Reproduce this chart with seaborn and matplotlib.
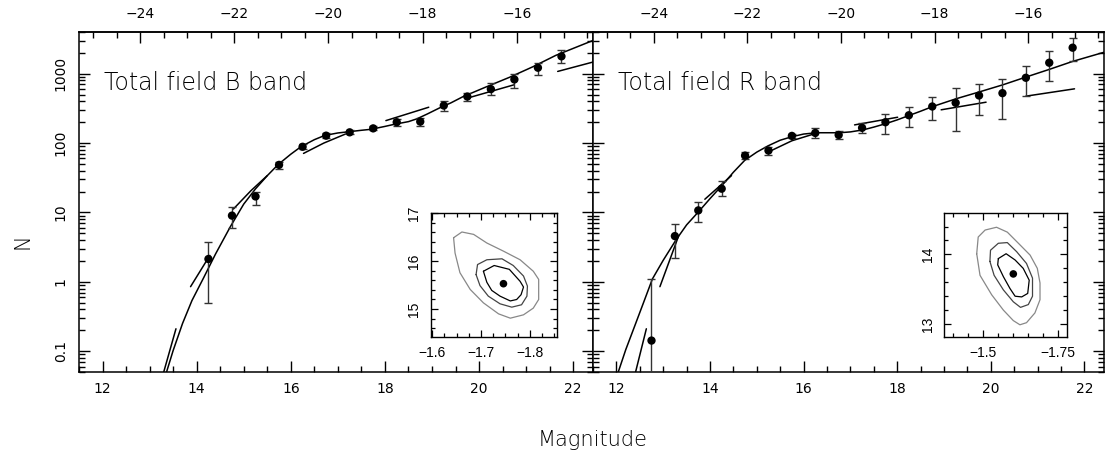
import matplotlib
matplotlib.use("Agg")
import matplotlib.pyplot as plt
import seaborn as sns
import numpy as np
from matplotlib.ticker import MultipleLocator, LogLocator, NullFormatter, FixedLocator

# ---------------- data: B band (total field) ----------------
b_mag = [14.25, 14.75, 15.25, 15.75, 16.25, 16.75, 17.25, 17.75, 18.25, 18.75,
         19.25, 19.75, 20.25, 20.75, 21.25, 21.75]
b_n = [2.13, 9.0, 17.0, 48.5, 88.5, 128, 143, 163, 200, 204, 348, 469, 600, 828, 1222, 1783]
b_lo = [0.5, 6.0, 12.7, 43, 81, 119, 134, 153, 178, 178, 288, 411, 495, 620, 968, 1430]
b_hi = [3.8, 12.1, 19.8, 54, 96, 138, 153, 174, 223, 230, 400, 525, 724, 1000, 1430, 2180]

b_fit_mag = [13.36, 13.5, 13.7, 13.9, 14.15, 14.4, 14.72, 15.0, 15.25, 15.5, 15.73, 16.0,
             16.22, 16.5, 16.72, 17.0, 17.2, 17.5, 17.7, 18.0, 18.19, 18.5, 18.68, 18.9,
             19.17, 19.4, 19.66, 20.15, 20.65, 21.14, 21.63, 22.42]
b_fit_n = [0.05, 0.102, 0.251, 0.537, 1.15, 2.51, 6.31, 13.2, 21.9, 33.9, 49, 69.2,
           89.1, 112, 129, 140, 145, 153, 158, 174, 186, 204, 224, 263,
           324, 380, 468, 646, 891, 1259, 1841, 3020]

b_dash_mag = [[13.30, 13.56], [13.87, 14.28], [14.78, 15.15, 15.50],
              [16.27, 16.70, 17.16], [18.02, 18.93], [19.80, 20.74], [21.67, 22.42]]
b_dash_n = [[0.05, 0.21], [0.85, 2.4], [11.2, 20.5, 34],
            [71, 100, 135], [211, 329], [455, 692], [1080, 1475]]

# ---------------- data: R band (total field) ----------------
r_mag = [12.75, 13.25, 13.75, 14.25, 14.75, 15.25, 15.75, 16.25, 16.75, 17.25, 17.75,
         18.25, 18.75, 19.25, 19.75, 20.25, 20.75, 21.25, 21.75]
r_n = [0.142, 4.56, 10.7, 22, 66, 78, 127, 140, 131, 166, 200, 252, 337, 381, 486, 525,
       875, 1442, 2376]
r_lo = [0.01, 2.23, 7.35, 17, 58, 68, 118, 117, 113, 140, 137, 173, 216, 148, 250, 223,
        470, 774, 1507]
r_hi = [1.09, 6.9, 14.1, 28, 74, 87, 137, 164, 147, 194, 261, 330, 460, 621, 716, 828,
        1290, 2130, 3280]

r_fit_mag = [12.04, 12.2, 12.39, 12.58, 12.77, 13.0, 13.27, 13.5, 13.77, 14.0, 14.31, 14.5,
             14.74, 15.0, 15.24, 15.5, 15.74, 16.0, 16.27, 16.5, 16.77, 17.0, 17.27, 17.5,
             17.76, 18.0, 18.26, 18.5, 18.75, 19.26, 19.74, 20.26, 20.75, 21.25, 21.75, 22.42]
r_fit_n = [0.05, 0.105, 0.229, 0.501, 1.10, 2.04, 3.98, 6.61, 10.5, 15.8, 26.9, 38.0,
           56.2, 74.1, 91.2, 110, 123, 135, 141, 141, 141, 145, 155, 170,
           191, 216, 251, 288, 335, 436, 543, 693, 895, 1155, 1507, 2040]

r_dash_mag = [[12.41, 12.64], [12.93, 13.33], [13.89, 14.46], [15.31, 15.75, 16.23],
              [17.09, 18.01], [18.94, 19.90], [20.75, 21.79]]
r_dash_n = [[0.05, 0.21], [0.85, 4.6], [15.5, 34], [78, 108, 136],
            [183, 236], [302, 389], [475, 606]]

# ---------------- inset contours (alpha, M*) ----------------
b_best = (-1.746, 15.53)
b_c1_a = [-1.705, -1.727, -1.758, -1.780, -1.787, -1.782, -1.773, -1.760, -1.739, -1.722, -1.712]
b_c1_m = [15.79, 15.91, 15.83, 15.58, 15.46, 15.30, 15.20, 15.17, 15.27, 15.39, 15.56]
b_c2_a = [-1.690, -1.693, -1.712, -1.743, -1.766, -1.787, -1.795, -1.794, -1.783, -1.763,
          -1.739, -1.715, -1.698]
b_c2_m = [15.72, 15.93, 16.03, 16.05, 15.91, 15.69, 15.48, 15.27, 15.09, 15.04, 15.11,
          15.27, 15.49]
b_c3_a = [-1.644, -1.661, -1.685, -1.712, -1.746, -1.780, -1.807, -1.818, -1.818, -1.807,
          -1.787, -1.760, -1.736, -1.705, -1.678, -1.657, -1.647]
b_c3_m = [16.49, 16.61, 16.56, 16.38, 16.21, 16.03, 15.79, 15.62, 15.20, 15.02, 14.88,
          14.81, 14.90, 15.13, 15.41, 15.76, 16.17]

r_best = (-1.600, 13.72)
r_c1_a = [-1.550, -1.576, -1.606, -1.633, -1.653, -1.648, -1.628, -1.606, -1.589, -1.567, -1.548]
r_c1_m = [13.94, 14.01, 13.92, 13.80, 13.63, 13.44, 13.39, 13.40, 13.51, 13.68, 13.85]
r_c2_a = [-1.522, -1.524, -1.550, -1.580, -1.611, -1.644, -1.664, -1.664, -1.650, -1.624,
          -1.600, -1.567, -1.536]
r_c2_m = [13.90, 14.06, 14.16, 14.17, 14.04, 13.87, 13.66, 13.40, 13.28, 13.24, 13.32,
          13.49, 13.70]
r_c3_a = [-1.478, -1.483, -1.506, -1.544, -1.580, -1.617, -1.656, -1.680, -1.689, -1.689,
          -1.672, -1.644, -1.622, -1.600, -1.567, -1.528, -1.489]
r_c3_m = [14.01, 14.25, 14.35, 14.39, 14.32, 14.16, 13.99, 13.80, 13.59, 13.35, 13.16,
          13.02, 12.99, 13.05, 13.20, 13.42, 13.70]

y_ticks = [0.1, 1, 10, 100, 1000]
y_ticklabels = ["0.1", "1", "10", "100", "1000"]
top_ticks = [-24, -22, -20, -18, -16]
dist_mod = 36.8

# ---------------- style ----------------
sns.set_theme(style="ticks")
plt.rcParams['font.family'] = ['DejaVu Sans']
plt.rcParams['axes.linewidth'] = 1.1
plt.rcParams['axes.edgecolor'] = 'black'
plt.rcParams['text.color'] = 'black'
plt.rcParams['axes.labelcolor'] = 'black'
plt.rcParams['xtick.color'] = 'black'
plt.rcParams['ytick.color'] = 'black'
plt.rcParams['xtick.labelcolor'] = 'black'
plt.rcParams['ytick.labelcolor'] = 'black'

fig = plt.figure(figsize=(11.06, 4.57), dpi=100)
ax1 = fig.add_axes([79 / 1106, 85 / 457, 514 / 1106, 340 / 457])
ax2 = fig.add_axes([593 / 1106, 85 / 457, 511 / 1106, 340 / 457])


def closed(a):
    return list(a) + [a[0]]


def main_panel(ax, mag, n, lo, hi, fm, fn, dm, dn, label, show_ylab):
    ax.set_yscale('log')
    sns.lineplot(x=fm, y=fn, sort=False, estimator=None, color='black', lw=1.1, ax=ax)
    for sm, sn in zip(dm, dn):
        sns.lineplot(x=sm, y=sn, sort=False, estimator=None, color='black', lw=1.1, ax=ax)
    n_a = np.array(n)
    ax.errorbar(mag, n, yerr=[n_a - np.array(lo), np.array(hi) - n_a], fmt='none',
                ecolor='#333333', elinewidth=1.0, capsize=3, capthick=1.0, zorder=3)
    sns.scatterplot(x=mag, y=n, color='black', s=36, edgecolor='none', ax=ax, zorder=5)
    ax.set_xlim(11.5, 22.42)
    ax.set_ylim(0.05, 4000)
    ax.set_xlabel('')
    ax.set_ylabel('')
    ax.xaxis.set_major_locator(MultipleLocator(2))
    ax.xaxis.set_minor_locator(MultipleLocator(0.5))
    ax.yaxis.set_major_locator(FixedLocator(y_ticks))
    ax.yaxis.set_minor_locator(LogLocator(base=10, subs=np.arange(2, 10)))
    ax.yaxis.set_minor_formatter(NullFormatter())
    ax.set_yticks(y_ticks, labels=y_ticklabels if show_ylab else [])
    ax.tick_params(axis='both', which='both', direction='in', top=False, right=True,
                   left=True, bottom=True, labelsize=10, width=1.0)
    ax.tick_params(axis='both', which='major', length=8)
    ax.tick_params(axis='both', which='minor', length=4)
    ax.tick_params(axis='x', pad=7)
    ax.tick_params(axis='y', pad=8, labelleft=show_ylab)
    for t in ax.get_yticklabels():
        t.set_rotation(90)
        t.set_va('center')
    sec = ax.secondary_xaxis('top', functions=(lambda m: m - dist_mod, lambda M: M + dist_mod))
    sec.xaxis.set_major_locator(FixedLocator(top_ticks))
    sec.xaxis.set_minor_locator(MultipleLocator(0.5))
    sec.tick_params(axis='x', which='both', direction='in', labelsize=10, width=1.0, pad=8)
    sec.tick_params(axis='x', which='major', length=8)
    sec.tick_params(axis='x', which='minor', length=4)
    ax.text(0.049, 0.829, label, transform=ax.transAxes, fontsize=17, color='black',
            fontweight='light', ha='left', va='baseline')


def inset(ax, rect, best, contours, xlim, ylim, xt, xtl, xminor):
    axin = ax.inset_axes(rect)
    colors = ['black', '#444444', '#888888']
    for (ca, cm), col in zip(contours, colors):
        sns.lineplot(x=closed(ca), y=closed(cm), sort=False, estimator=None,
                     color=col, lw=0.9, ax=axin)
    sns.scatterplot(x=[best[0]], y=[best[1]], color='black', s=30, edgecolor='none',
                    ax=axin, zorder=5)
    axin.set_xlim(*xlim)
    axin.set_ylim(*ylim)
    axin.set_xlabel('')
    axin.set_ylabel('')
    axin.set_xticks(xt, labels=xtl)
    axin.xaxis.set_minor_locator(MultipleLocator(xminor))
    axin.yaxis.set_major_locator(MultipleLocator(1))
    axin.yaxis.set_minor_locator(MultipleLocator(0.2))
    axin.tick_params(axis='both', which='both', direction='in', top=True, right=True,
                     labelsize=10, width=0.9)
    axin.tick_params(axis='both', which='major', length=5)
    axin.tick_params(axis='both', which='minor', length=3)
    axin.tick_params(axis='x', pad=6)
    axin.tick_params(axis='y', pad=7)
    for t in axin.get_xticklabels() + axin.get_yticklabels():
        t.set_family(['Liberation Sans', 'DejaVu Sans'])
    for t in axin.get_yticklabels():
        t.set_rotation(90)
        t.set_va('center')
    for s in axin.spines.values():
        s.set_linewidth(1.0)


main_panel(ax1, b_mag, b_n, b_lo, b_hi, b_fit_mag, b_fit_n, b_dash_mag, b_dash_n,
           "Total field B band", True)
main_panel(ax2, r_mag, r_n, r_lo, r_hi, r_fit_mag, r_fit_n, r_dash_mag, r_dash_n,
           "Total field R band", False)

inset(ax1, [0.685, 0.102, 0.2445, 0.3647], b_best,
      [(b_c1_a, b_c1_m), (b_c2_a, b_c2_m), (b_c3_a, b_c3_m)],
      (-1.598, -1.855), (14.41, 17.0), [-1.6, -1.7, -1.8],
      ["\u22121.6", "\u22121.7", "\u22121.8"], 0.025)
inset(ax2, [0.6875, 0.102, 0.2407, 0.3647], r_best,
      [(r_c1_a, r_c1_m), (r_c2_a, r_c2_m), (r_c3_a, r_c3_m)],
      (-1.37, -1.78), (12.81, 14.59), [-1.5, -1.75], ["\u22121.5", "\u22121.75"], 0.05)

fig.text(0.536, 0.037, "Magnitude", ha='center', va='center', fontsize=15,
         fontweight='light', color='black')
fig.text(0.02, 0.4726, "N", ha='center', va='center', rotation=90, fontsize=15,
         fontweight='light', color='black')

fig.savefig("out.png", dpi=100)
